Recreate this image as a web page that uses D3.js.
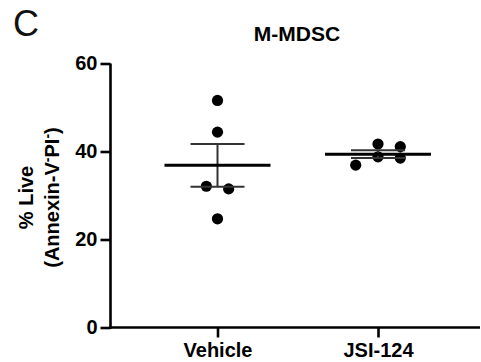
<!DOCTYPE html>
<html>
<head>
<meta charset="utf-8">
<script src="https://cdn.jsdelivr.net/npm/d3@7"></script>
<style>
  html, body { margin: 0; padding: 0; background: #fff; }
  svg { display: block; font-family: "Liberation Sans", Arial, sans-serif; }
</style>
</head>
<body>
<svg id="chart" width="481" height="362"></svg>
<script>
// Groups and individual measurements (% live, Annexin-V- PI-)
const groups = ["Vehicle", "JSI-124"];
const vehicleValues = [51.6, 44.4, 32.1, 31.5, 24.7];
const jsiValues = [41.7, 38.8, 41.1, 38.5, 36.9];
const yTicks = [0, 20, 40, 60];
const title = "M-MDSC";
const panelLetter = "C";

const seriesValues = [vehicleValues, jsiValues];

const svg = d3.select("#chart");
const axisLeftX = 110.5, axisRightX = 480;
const plotTop = 63.5, plotBottom = 327.5;

const x = d3.scalePoint()
  .domain(groups)
  .range([217.5, 378]);

const y = d3.scaleLinear()
  .domain([0, 60])
  .range([plotBottom, plotTop]);

// Panel letter
svg.append("text")
  .attr("x", 13).attr("y", 36)
  .attr("font-size", 36)
  .attr("fill", "#111")
  .text(panelLetter);

// Title
svg.append("text")
  .attr("x", 297).attr("y", 41)
  .attr("text-anchor", "middle")
  .attr("font-size", 21)
  .attr("font-weight", "bold")
  .text(title);

// Y axis
const yAxis = svg.append("g")
  .attr("transform", `translate(${axisLeftX},0)`)
  .call(d3.axisLeft(y).tickValues(yTicks).tickSize(10).tickPadding(3).tickSizeOuter(0));

// X axis
const xAxis = svg.append("g")
  .attr("transform", `translate(0,${y(0)})`)
  .call(d3.axisBottom(x).tickSize(10).tickPadding(5).tickSizeOuter(0));

[yAxis, xAxis].forEach(g => {
  g.select(".domain").attr("stroke", "#000").attr("stroke-width", 2.6);
  g.selectAll(".tick line").attr("stroke", "#000").attr("stroke-width", 2.6);
  g.selectAll(".tick text")
    .attr("fill", "#000")
    .attr("font-size", 20)
    .attr("font-weight", "bold")
    .attr("font-family", "Liberation Sans, Arial, sans-serif");
});
// Axis lines meet at the origin; x axis runs across the full width
xAxis.select(".domain").attr("d", `M${axisLeftX - 1.3},0H${axisRightX}`);
yAxis.select(".domain").attr("d", `M0,${y(60)}V${y(0) + 1.3}`);

// Y axis title (two lines, rotated)
const yTitle = svg.append("text")
  .attr("transform", `translate(0,${(y(0) + y(60)) / 2 + 2}) rotate(-90)`)
  .attr("text-anchor", "middle")
  .attr("font-size", 20)
  .attr("font-weight", "bold");
yTitle.append("tspan").attr("x", 0).attr("y", 33).text("% Live");
const l2 = yTitle.append("tspan").attr("x", 0).attr("y", 59);
l2.append("tspan").text("(Annexin-V");
l2.append("tspan").attr("font-size", 14).attr("dy", -7).text("-");
l2.append("tspan").attr("dy", 7).text("PI");
l2.append("tspan").attr("font-size", 14).attr("dy", -7).text("-");
l2.append("tspan").attr("dy", 7).text(")");

// Scatter layout: greedy column slots, then center each overlapping cluster
const r = 5.6;
const slot = 22.3;
function swarm(values) {
  const placed = [];
  const candidates = [0, 1, -1, 2, -2, 3, -3];
  values.forEach(v => {
    const py = y(v);
    for (const c of candidates) {
      const hit = placed.some(p => p.slot === c && Math.abs(p.py - py) < 2 * r);
      if (!hit) { placed.push({ v, py, slot: c }); break; }
    }
  });
  const n = placed.length;
  const parent = d3.range(n);
  const find = i => parent[i] === i ? i : (parent[i] = find(parent[i]));
  for (let i = 0; i < n; i++)
    for (let j = i + 1; j < n; j++)
      if (Math.abs(placed[i].py - placed[j].py) < 2 * r) parent[find(i)] = find(j);
  const byRoot = d3.group(placed.map((p, i) => ({ p, root: find(i) })), d => d.root);
  byRoot.forEach(items => {
    const slots = items.map(d => d.p.slot);
    const shift = -(d3.min(slots) + d3.max(slots)) / 2;
    items.forEach(d => d.p.off = (d.p.slot + shift) * slot);
  });
  return placed;
}

groups.forEach((g, gi) => {
  const vals = seriesValues[gi];
  const cx = x(g);
  const mean = d3.mean(vals);
  const sem = d3.deviation(vals) / Math.sqrt(vals.length);

  const pts = swarm(vals);
  svg.append("g").selectAll("circle")
    .data(pts)
    .join("circle")
    .attr("cx", d => cx + d.off)
    .attr("cy", d => d.py)
    .attr("r", r)
    .attr("fill", "#000");

  const eb = svg.append("g").attr("stroke", "#333").attr("stroke-width", 2);
  eb.append("line").attr("x1", cx).attr("x2", cx).attr("y1", y(mean + sem)).attr("y2", y(mean - sem));
  [mean + sem, mean - sem].forEach(v => {
    eb.append("line").attr("x1", cx - 27).attr("x2", cx + 27).attr("y1", y(v)).attr("y2", y(v));
  });
  svg.append("line")
    .attr("x1", cx - 53).attr("x2", cx + 53)
    .attr("y1", y(mean)).attr("y2", y(mean))
    .attr("stroke", "#000").attr("stroke-width", 3);
});
</script>
</body>
</html>
